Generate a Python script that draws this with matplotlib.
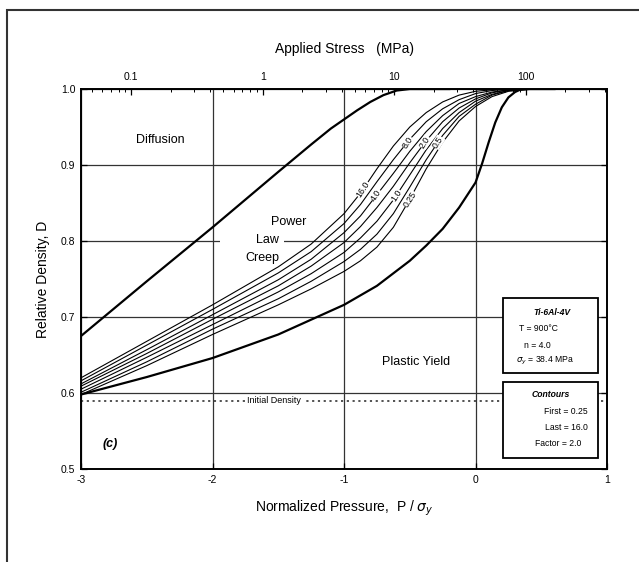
import matplotlib

matplotlib.use("Agg")
import matplotlib.pyplot as plt
import numpy as np
from matplotlib.patches import Rectangle

plt.rcParams["font.family"] = ["Liberation Sans", "DejaVu Sans"]

# densification map for Ti-6Al-4V
PRESSURE = [-3.0, -2.5, -2.0, -1.5, -1.25, -1.0, -0.875, -0.75, -0.625, -0.5,
            -0.375, -0.25, -0.125, 0.0, 0.125, 0.25, 0.45]
CONTOURS = {
    16.0: [0.620, 0.668, 0.716, 0.766, 0.796, 0.836, 0.863, 0.895, 0.925, 0.950,
           0.969, 0.983, 0.992, 0.997, 0.999, 1.000, 1.0],
    8.0: [0.616, 0.663, 0.710, 0.758, 0.786, 0.823, 0.848, 0.878, 0.907, 0.934,
          0.957, 0.974, 0.986, 0.994, 0.998, 1.000, 1.0],
    4.0: [0.612, 0.657, 0.703, 0.749, 0.776, 0.811, 0.833, 0.861, 0.889, 0.918,
          0.944, 0.965, 0.981, 0.990, 0.996, 0.999, 1.0],
    2.0: [0.609, 0.652, 0.697, 0.741, 0.767, 0.798, 0.819, 0.844, 0.872, 0.903,
          0.932, 0.957, 0.975, 0.987, 0.995, 0.999, 1.0],
    1.0: [0.605, 0.647, 0.690, 0.733, 0.757, 0.785, 0.804, 0.826, 0.854, 0.887,
          0.920, 0.948, 0.969, 0.984, 0.993, 0.998, 1.0],
    0.5: [0.601, 0.641, 0.684, 0.724, 0.747, 0.773, 0.789, 0.809, 0.836, 0.871,
          0.907, 0.939, 0.964, 0.980, 0.992, 0.998, 1.0],
    0.25: [0.598, 0.636, 0.677, 0.716, 0.737, 0.760, 0.774, 0.792, 0.818, 0.855,
           0.895, 0.930, 0.958, 0.977, 0.990, 0.997, 1.0],
}
# density at which each contour carries its label
LABEL_AT = {16.0: 0.868, 8.0: 0.930, 4.0: 0.860, 2.0: 0.930,
            1.0: 0.860, 0.5: 0.930, 0.25: 0.855}

DIFFUSION_P = [-3.0, -2.5, -2.0, -1.5, -1.25, -1.1, -1.0, -0.9, -0.8, -0.7,
               -0.6, -0.5, -0.2]
DIFFUSION_D = [0.675, 0.747, 0.818, 0.891, 0.927, 0.948, 0.960, 0.972, 0.983,
               0.992, 0.998, 1.0, 1.0]

YIELD_P = [-3.0, -2.5, -2.0, -1.5, -1.0, -0.75, -0.5, -0.375, -0.25, -0.125,
           0.0, 0.05, 0.1, 0.15, 0.2, 0.25, 0.3, 0.35, 0.6]
YIELD_D = [0.598, 0.621, 0.646, 0.677, 0.716, 0.741, 0.774, 0.794, 0.816, 0.844,
           0.877, 0.902, 0.930, 0.956, 0.976, 0.989, 0.996, 1.0, 1.0]

INITIAL_DENSITY = 0.59

STRESS_TICKS = [0.1, 1, 10, 100]
STRESS_SCALE = 41.5  # MPa at P/sigma_y = 1 on the top scale

fig = plt.figure(figsize=(6.39, 5.62), dpi=100)
ax = fig.add_axes([0.1268, 0.1655, 0.8232, 0.6761])

ax.set_xlim(-3, 1)
ax.set_ylim(0.5, 1.0)
ax.set_xticks([-3, -2, -1, 0, 1])
ax.set_xticklabels(["-3", "-2", "-1", "0", "1"])
ax.set_yticks([0.5, 0.6, 0.7, 0.8, 0.9, 1.0])
ax.set_yticklabels(["0.5", "0.6", "0.7", "0.8", "0.9", "1.0"])
ax.grid(True, color="#333333", lw=0.9)
ax.tick_params(direction="in", length=4, labelsize=7.5, right=True,
               width=0.9, pad=4)
for sp in ax.spines.values():
    sp.set_linewidth(1.4)

ax.plot([-3, 1], [INITIAL_DENSITY] * 2, ls=(0, (1.2, 2.0)), color="#444444", lw=1.3)
ax.text(-1.53, INITIAL_DENSITY, "Initial Density", fontsize=6.5, ha="center",
        va="center", bbox=dict(fc="white", ec="none", pad=1))

for level, dens in CONTOURS.items():
    ax.plot(PRESSURE, dens, color="black", lw=0.8)
    d = LABEL_AT[level]
    x = np.interp(d, dens, PRESSURE)
    ax.text(x, d, f"{level:.1f}" if level >= 0.5 else f"{level:g}",
            fontsize=6.3, rotation=57, ha="center", va="center",
            bbox=dict(fc="white", ec="none", pad=0.2))

ax.plot(DIFFUSION_P, DIFFUSION_D, color="black", lw=1.6)
ax.plot(YIELD_P, YIELD_D, color="black", lw=1.6)

ax.text(-2.4, 0.933, "Diffusion", fontsize=9, ha="center", va="center")
# gap in the 0.8 grid line around the region label
ax.add_patch(Rectangle((-1.94, 0.796), 0.48, 0.008, fc="white", ec="none",
                       zorder=1.8))
ax.text(-1.42, 0.825, "Power", fontsize=9, ha="center", va="center")
ax.text(-1.58, 0.801, "Law", fontsize=9, ha="center", va="center")
ax.text(-1.62, 0.778, "Creep", fontsize=9, ha="center", va="center")
ax.text(-0.45, 0.641, "Plastic Yield", fontsize=9, ha="center", va="center")
ax.text(-2.78, 0.533, "(c)", fontsize=9, style="italic", weight="bold",
        ha="center", va="center")

# parameter boxes
box_kw = dict(transform=ax.transAxes, fill=True, fc="white", ec="black", lw=1.3,
              zorder=5)
ax.add_patch(Rectangle((0.802, 0.253), 0.181, 0.197, **box_kw))
ax.add_patch(Rectangle((0.802, 0.029), 0.181, 0.200, **box_kw))
tk = dict(transform=ax.transAxes, fontsize=6.2, va="center", zorder=6)
ax.text(0.895, 0.412, "Ti-6Al-4V", ha="center", style="italic", weight="bold", **tk)
ax.text(0.870, 0.370, "T = 900°C", ha="center", **tk)
ax.text(0.868, 0.325, "n = 4.0", ha="center", **tk)
ax.text(0.883, 0.285, r"$\sigma_y$ = 38.4 MPa", ha="center", **tk)
ax.text(0.892, 0.197, "Contours", ha="center", style="italic", weight="bold", **tk)
ax.text(0.963, 0.150, "First = 0.25", ha="right", **tk)
ax.text(0.963, 0.108, "Last = 16.0", ha="right", **tk)
ax.text(0.952, 0.068, "Factor = 2.0", ha="right", **tk)

ax.set_xlabel(r"Normalized Pressure,  P / $\sigma_y$", fontsize=10, labelpad=10)
ax.set_ylabel("Relative Density, D", fontsize=10, labelpad=8)

# top scale: applied stress in MPa
top = ax.twiny()
top.set_xlim(ax.get_xlim())
top.set_xticks(np.log10(np.array(STRESS_TICKS) / STRESS_SCALE))
top.set_xticklabels([f"{s:g}" for s in STRESS_TICKS])
minor = [k * 10.0 ** e for e in range(-2, 3) for k in range(2, 10)]
minor = [m for m in minor if -3 < np.log10(m / STRESS_SCALE) < 1]
top.set_xticks(np.log10(np.array(minor) / STRESS_SCALE), minor=True)
top.tick_params(direction="in", length=4, labelsize=7.5, width=0.9, pad=5)
top.tick_params(which="minor", direction="in", length=2.5, width=0.7)
top.set_xlabel("Applied Stress   (MPa)", fontsize=10, labelpad=14)
for sp in top.spines.values():
    sp.set_visible(False)

# outer frame of the original figure
fig.patches.append(Rectangle((7 / 639, -0.1), 1.2, 1 - 10 / 562 + 0.1,
                             transform=fig.transFigure, fill=False,
                             ec="#333333", lw=1.5))

fig.savefig("out.png", dpi=100)
